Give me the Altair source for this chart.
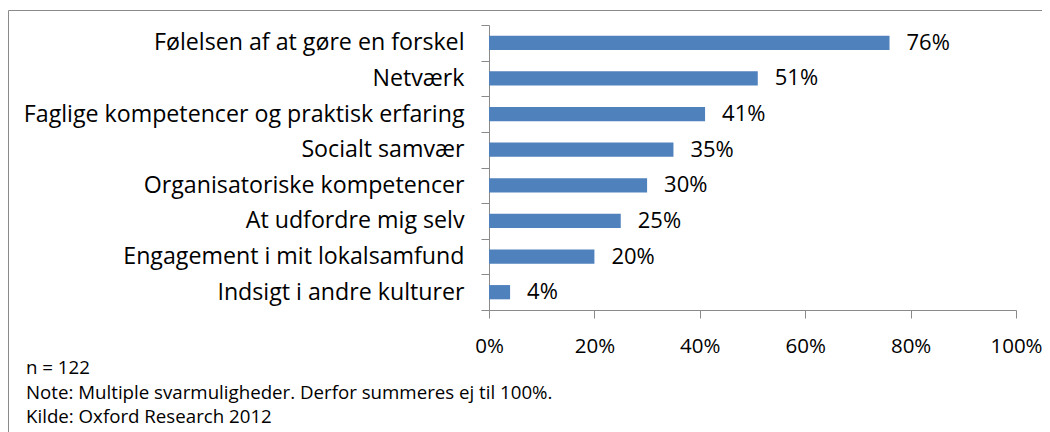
import altair as alt
import pandas as pd

categories = [
    "Følelsen af at gøre en forskel",
    "Netværk",
    "Faglige kompetencer og praktisk erfaring",
    "Socialt samvær",
    "Organisatoriske kompetencer",
    "At udfordre mig selv",
    "Engagement i mit lokalsamfund",
    "Indsigt i andre kulturer",
]
values = [76, 51, 41, 35, 30, 25, 20, 4]
x_ticks = [0, 20, 40, 60, 80, 100]
notes = [
    "n = 122",
    "Note: Multiple svarmuligheder. Derfor summeres ej til 100%.",
    "Kilde: Oxford Research 2012",
]

FONT = "Open Sans"
GRAY = "#8a8a8a"
BLUE = "#4F81BD"

df = pd.DataFrame({"cat": categories, "val": values})
df["label"] = df["val"].astype(str) + "%"

W, H = 527, 285
PAD_L, PAD_T = 481, 17
TOTAL_W, TOTAL_H = 1034, 424

y_enc = alt.Y(
    "cat:N",
    sort=categories,
    scale=alt.Scale(paddingInner=0, paddingOuter=0),
    axis=alt.Axis(
        title=None,
        tickBand="extent",
        tickSize=8,
        tickColor=GRAY,
        domainColor=GRAY,
        labelFont=FONT,
        labelFontSize=23.2,
        labelColor="#000000",
        labelPadding=17,
        labelLimit=600,
    ),
)
x_enc = alt.X(
    "val:Q",
    scale=alt.Scale(domain=[0, 100], nice=False),
    axis=alt.Axis(
        title=None,
        values=x_ticks,
        labelExpr="datum.value + '%'",
        grid=False,
        tickSize=8,
        tickColor=GRAY,
        domainColor=GRAY,
        labelFont=FONT,
        labelFontSize=20.5,
        labelColor="#000000",
        labelPadding=18,
        labelFlush=False,
    ),
)

frame = alt.Chart(pd.DataFrame({"a": [0]})).mark_rect(
    fillOpacity=0, stroke=GRAY, strokeWidth=1
).encode(
    x=alt.value(-480.5), x2=alt.value(600), y=alt.value(-14.5), y2=alt.value(440)
)

bars = alt.Chart(df).mark_bar(color=BLUE, height=alt.RelativeBandSize(0.4)).encode(
    x=x_enc, y=y_enc
)

labels = alt.Chart(df).mark_text(
    align="left", baseline="middle", dx=17, font=FONT, fontSize=22, color="#000000"
).encode(x="val:Q", y=alt.Y("cat:N", sort=categories), text="label:N")

note_layers = [
    alt.Chart(pd.DataFrame({"t": [t]})).mark_text(
        align="left", baseline="middle", font=FONT, fontSize=18.7, color="#000000"
    ).encode(x=alt.value(-463), y=alt.value(343 + i * 24.5), text="t:N")
    for i, t in enumerate(notes)
]

chart = alt.layer(frame, bars, labels, *note_layers).properties(
    width=W,
    height=H,
    autosize=alt.AutoSizeParams(type="none"),
    padding={"left": PAD_L, "top": PAD_T, "right": TOTAL_W - PAD_L - W, "bottom": TOTAL_H - PAD_T - H},
).configure_view(strokeWidth=0)

chart.save("out.html", embed_options={"renderer": "svg", "actions": False})
